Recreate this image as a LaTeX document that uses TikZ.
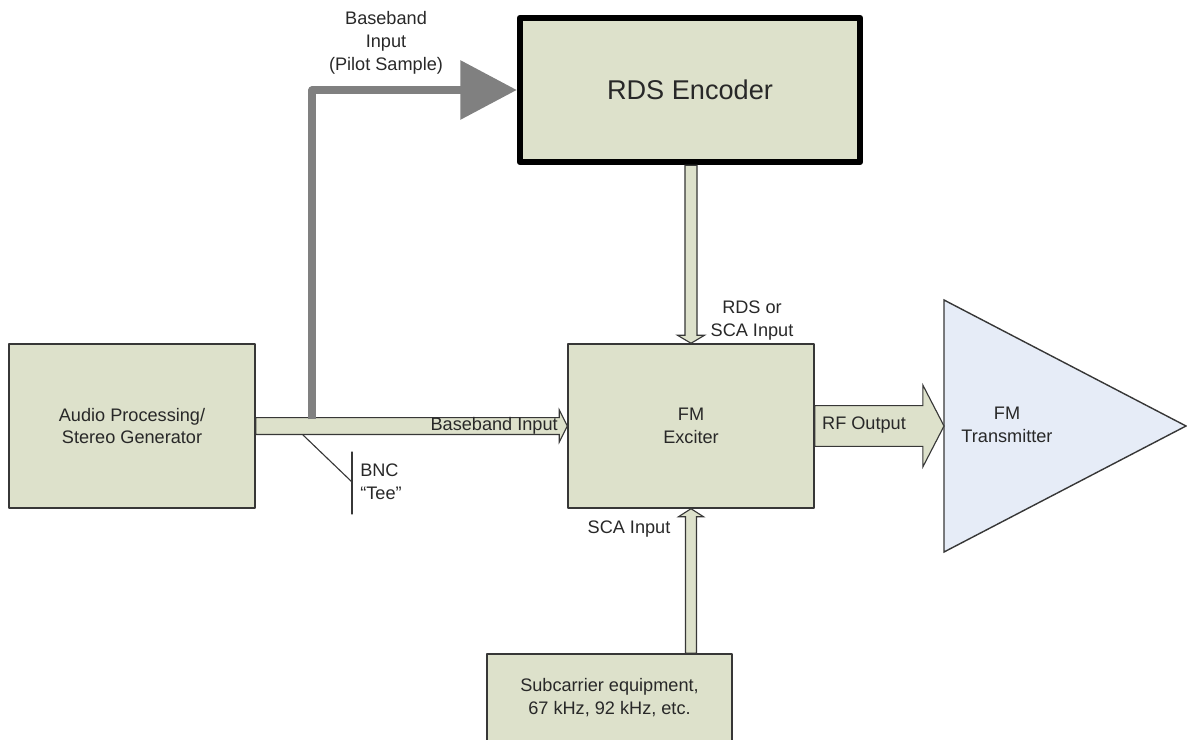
\documentclass[tikz,border=0pt]{standalone}
\usepackage{fontspec}
\setmainfont{Liberation Sans}
\usetikzlibrary{arrows.meta,calc}
\definecolor{boxfill}{RGB}{221,225,203}
\definecolor{txfill}{RGB}{230,236,247}
\definecolor{edgegray}{RGB}{55,55,55}
\definecolor{pilotgray}{RGB}{128,128,128}
\definecolor{txtgray}{RGB}{40,40,40}

% block arrow: start, end, half shaft, half head, head length
\newcommand{\fatarrow}[5]{%
\coordinate (hb) at ($(#2)!#5!(#1)$);
\draw [flow] ($(#1)!#3!90:(#2)$) -- ($(hb)!#3!90:(#2)$) -- ($(hb)!#4!90:(#2)$) -- (#2) -- ($(hb)!#4!-90:(#2)$) -- ($(hb)!#3!-90:(#2)$) -- ($(#1)!#3!-90:(#2)$) -- cycle;}

\begin{document}
\begin{tikzpicture}[line cap=round,line join=round,x=0.025cm,y=-0.025cm,
  lbl/.style={text=txtgray,font=\fontsize{12.9pt}{16.3pt}\selectfont,align=center,inner sep=0pt},
  box/.style={lbl,draw=edgegray,fill=boxfill,line width=1pt},
  flow/.style={draw=edgegray,fill=boxfill,line width=0.8pt,line join=miter}]
\useasboundingbox (0,0) rectangle (1187,740);
\clip (0,0) rectangle (1187,740);
% blocks
\node [box,minimum width=6.15cm,minimum height=4.1cm] (audio) at (132,426) {Audio Processing/\\Stereo Generator};
\node [box,minimum width=6.15cm,minimum height=4.1cm] (exciter) at (691,426) {FM\\Exciter};
\node [box,draw=black,line width=4.6pt,minimum width=8.5cm,minimum height=3.6cm,font=\fontsize{19.3pt}{23pt}\selectfont] (rds) at (690,90) {RDS Encoder};
\node [box,minimum width=6.125cm,minimum height=2.2cm] (sub) at (609.5,698) {Subcarrier equipment,\\67 kHz, 92 kHz, etc.};
\coordinate (txtop) at (944,300);
\coordinate (txtip) at (1186,426);
\coordinate (txbot) at (944,552);
\coordinate (txw) at (944,426);
\draw [fill=txfill,draw=edgegray,line width=1pt,line join=miter] (txtop) -- (txtip) -- (txbot) -- cycle;
% signal paths
\fatarrow{audio.east}{exciter.west}{6pt}{11.4pt}{5.7pt}
\fatarrow{exciter.east}{txw}{14.5pt}{29pt}{15pt}
\coordinate (rdsout) at (rds.south -| exciter.north);
\fatarrow{rdsout}{exciter.north}{4.3pt}{9.6pt}{5.7pt}
\coordinate (scain) at (sub.north -| exciter.south);
\fatarrow{scain}{exciter.south}{3.9pt}{8.9pt}{5.7pt}
\coordinate (tee) at (312,419);
\draw [pilotgray,line width=5pt,line cap=butt,-{Triangle[length=40pt,width=41pt]}] (tee) |- (rds.west);
% BNC tee
\coordinate (tap) at (303,435);
\coordinate (bnc) at (352,482);
\coordinate (bnctop) at (352,452);
\coordinate (bncbot) at (352,514);
\draw [edgegray,line width=0.8pt] (tap) -- (bnc);
\draw [edgegray,line width=0.8pt] (bnctop) -- (bncbot);
% labels
\node [lbl,align=left,anchor=west] (bnclbl) at (360,482) {BNC\\“Tee”};
\node [lbl] (pilotlbl) at (386,43) {Baseband\\Input\\(Pilot Sample)};
\node [lbl,anchor=east] (bblbl) at (558,426) {Baseband Input};
\node [lbl] (rdslbl) at (752,321) {RDS or\\SCA Input};
\node [lbl] (rflbl) at (864,425) {RF Output};
\node [lbl] (scalbl) at (629,529) {SCA Input};
\node [lbl] (tx) at (1007,425) {FM\\Transmitter};
\end{tikzpicture}
\end{document}
